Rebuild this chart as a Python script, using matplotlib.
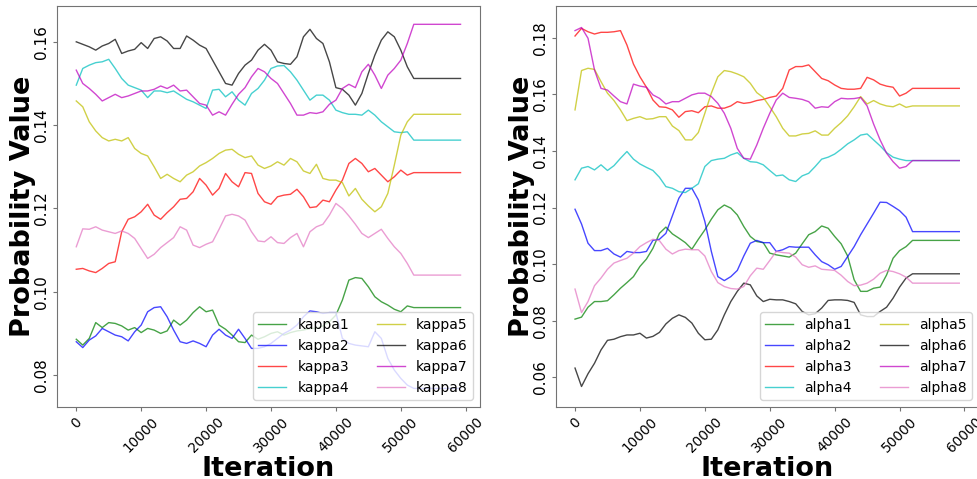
import matplotlib
matplotlib.use("Agg")
import matplotlib.pyplot as plt

iterations = list(range(0, 53000, 1000)) + [59200]

kappa1 = [0.0886,0.0872,0.0888,0.0926,0.0914,0.0926,0.0924,0.0918,0.0908,0.0914,
          0.0902,0.0912,0.0908,0.0900,0.0906,0.0932,0.0920,0.0932,0.0950,0.0964,
          0.0952,0.0956,0.0920,0.0910,0.0896,0.0880,0.0878,0.0896,0.0886,0.0892,
          0.0900,0.0904,0.0896,0.0902,0.0906,0.0908,0.0912,0.0912,0.0918,0.0928,
          0.0944,0.0980,0.1028,0.1034,0.1032,0.1012,0.0988,0.0976,0.0968,0.0958,
          0.0952,0.0966,0.0962,0.0962]
kappa2 = [0.0880,0.0866,0.0884,0.0894,0.0912,0.0904,0.0896,0.0892,0.0882,0.0904,
          0.0920,0.0952,0.0962,0.0964,0.0940,0.0908,0.0880,0.0876,0.0882,0.0876,
          0.0868,0.0896,0.0910,0.0896,0.0888,0.0910,0.0888,0.0864,0.0864,0.0868,
          0.0876,0.0888,0.0900,0.0908,0.0920,0.0940,0.0954,0.0952,0.0948,0.0950,
          0.0950,0.0888,0.0876,0.0872,0.0870,0.0868,0.0904,0.0888,0.0840,0.0812,
          0.0792,0.0776,0.0768,0.0768]
kappa3 = [0.1054,0.1056,0.1050,0.1046,0.1056,0.1068,0.1072,0.1144,0.1174,0.1180,
          0.1192,0.1210,0.1184,0.1174,0.1190,0.1204,0.1222,0.1224,0.1240,0.1272,
          0.1256,0.1232,0.1248,0.1284,0.1264,0.1252,0.1286,0.1284,0.1236,0.1216,
          0.1210,0.1228,0.1232,0.1234,0.1246,0.1228,0.1202,0.1204,0.1220,0.1216,
          0.1244,0.1268,0.1308,0.1320,0.1308,0.1288,0.1296,0.1280,0.1264,0.1276,
          0.1292,0.1280,0.1286,0.1286]
kappa4 = [0.1496,0.1536,0.1544,0.1550,0.1552,0.1558,0.1536,0.1512,0.1496,0.1490,
          0.1484,0.1466,0.1482,0.1482,0.1478,0.1482,0.1472,0.1462,0.1456,0.1448,
          0.1440,0.1484,0.1486,0.1468,0.1480,0.1460,0.1448,0.1476,0.1488,0.1508,
          0.1536,0.1542,0.1543,0.1528,0.1508,0.1484,0.1460,0.1472,0.1472,0.1460,
          0.1436,0.1430,0.1426,0.1426,0.1424,0.1436,0.1424,0.1408,0.1396,0.1384,
          0.1382,0.1384,0.1364,0.1364]
kappa5 = [0.1458,0.1444,0.1408,0.1386,0.1370,0.1362,0.1366,0.1362,0.1370,0.1344,
          0.1332,0.1326,0.1300,0.1272,0.1282,0.1272,0.1264,0.1280,0.1288,0.1302,
          0.1310,0.1320,0.1332,0.1340,0.1342,0.1330,0.1322,0.1326,0.1304,0.1296,
          0.1302,0.1312,0.1304,0.1320,0.1312,0.1290,0.1284,0.1306,0.1272,0.1268,
          0.1268,0.1262,0.1230,0.1248,0.1222,0.1206,0.1192,0.1204,0.1236,0.1304,
          0.1376,0.1408,0.1426,0.1426]
kappa6 = [0.1600,0.1594,0.1588,0.1580,0.1590,0.1596,0.1606,0.1572,0.1578,0.1582,
          0.1598,0.1584,0.1608,0.1612,0.1602,0.1584,0.1584,0.1614,0.1604,0.1592,
          0.1584,0.1556,0.1528,0.1500,0.1496,0.1524,0.1544,0.1556,0.1580,0.1594,
          0.1580,0.1552,0.1548,0.1546,0.1564,0.1612,0.1630,0.1608,0.1596,0.1552,
          0.1490,0.1486,0.1472,0.1448,0.1476,0.1524,0.1568,0.1604,0.1624,0.1612,
          0.1580,0.1540,0.1512,0.1512]
kappa7 = [0.1532,0.1500,0.1488,0.1474,0.1458,0.1466,0.1474,0.1466,0.1470,0.1476,
          0.1482,0.1482,0.1486,0.1494,0.1488,0.1496,0.1482,0.1484,0.1468,0.1452,
          0.1448,0.1424,0.1432,0.1424,0.1450,0.1474,0.1490,0.1516,0.1536,0.1528,
          0.1512,0.1500,0.1476,0.1452,0.1424,0.1424,0.1430,0.1428,0.1432,0.1450,
          0.1460,0.1488,0.1498,0.1490,0.1528,0.1546,0.1520,0.1488,0.1520,0.1536,
          0.1556,0.1596,0.1642,0.1642]
kappa8 = [0.1108,0.1151,0.1150,0.1156,0.1148,0.1144,0.1140,0.1146,0.1140,0.1128,
          0.1104,0.1080,0.1090,0.1106,0.1118,0.1130,0.1156,0.1148,0.1112,0.1106,
          0.1114,0.1120,0.1150,0.1182,0.1186,0.1182,0.1172,0.1144,0.1122,0.1120,
          0.1132,0.1118,0.1116,0.1130,0.1140,0.1108,0.1144,0.1156,0.1162,0.1184,
          0.1212,0.1200,0.1182,0.1162,0.1140,0.1130,0.1140,0.1150,0.1128,0.1108,
          0.1092,0.1068,0.1040,0.1040]

alpha1 = [0.0806,0.0813,0.0848,0.0868,0.0868,0.0871,0.0892,0.0915,0.0935,0.0956,
          0.0992,0.1018,0.1056,0.1109,0.1131,0.1107,0.1092,0.1076,0.1053,0.1088,
          0.1121,0.1159,0.1192,0.1209,0.1198,0.1174,0.1133,0.1098,0.1080,0.1076,
          0.1039,0.1033,0.1029,0.1025,0.1039,0.1072,0.1104,0.1115,0.1135,0.1127,
          0.1098,0.1072,0.1029,0.0945,0.0904,0.0904,0.0915,0.0919,0.0962,0.1021,
          0.1048,0.1062,0.1084,0.1084]
alpha2 = [0.1194,0.1142,0.1074,0.1048,0.1048,0.1056,0.1036,0.1025,0.1045,0.1041,
          0.1041,0.1045,0.1084,0.1088,0.1109,0.1171,0.1233,0.1268,0.1268,0.1227,
          0.1151,0.1045,0.0956,0.0942,0.0956,0.0978,0.1029,0.1074,0.1084,0.1076,
          0.1076,0.1045,0.1051,0.1062,0.1060,0.1060,0.1060,0.1033,0.1009,0.0998,
          0.0982,0.0992,0.1027,0.1062,0.1104,0.1142,0.1180,0.1219,0.1218,0.1204,
          0.1189,0.1166,0.1115,0.1115]
alpha3 = [0.1806,0.1833,0.1821,0.1813,0.1819,0.1819,0.1821,0.1825,0.1774,0.1707,
          0.1662,0.1625,0.1580,0.1556,0.1554,0.1545,0.1519,0.1539,0.1542,0.1535,
          0.1556,0.1559,0.1551,0.1551,0.1559,0.1574,0.1568,0.1571,0.1578,0.1582,
          0.1589,0.1594,0.1621,0.1686,0.1698,0.1698,0.1704,0.1680,0.1656,0.1648,
          0.1633,0.1621,0.1618,0.1618,0.1621,0.1660,0.1651,0.1636,0.1629,0.1625,
          0.1594,0.1604,0.1621,0.1621]
alpha4 = [0.1298,0.1339,0.1345,0.1333,0.1351,0.1331,0.1348,0.1374,0.1398,0.1371,
          0.1354,0.1342,0.1331,0.1307,0.1274,0.1268,0.1256,0.1253,0.1268,0.1284,
          0.1345,0.1366,0.1371,0.1374,0.1386,0.1394,0.1374,0.1362,0.1360,0.1351,
          0.1331,0.1312,0.1315,0.1298,0.1292,0.1312,0.1321,0.1345,0.1371,0.1378,
          0.1389,0.1406,0.1425,0.1439,0.1456,0.1460,0.1439,0.1418,0.1394,0.1378,
          0.1371,0.1366,0.1366,0.1366]
alpha5 = [0.1545,0.1684,0.1692,0.1688,0.1645,0.1604,0.1578,0.1545,0.1507,0.1515,
          0.1521,0.1512,0.1514,0.1521,0.1521,0.1488,0.1472,0.1439,0.1439,0.1465,
          0.1533,0.1604,0.1662,0.1684,0.1680,0.1672,0.1662,0.1639,0.1606,0.1589,
          0.1556,0.1521,0.1480,0.1453,0.1453,0.1460,0.1462,0.1471,0.1456,0.1456,
          0.1480,0.1500,0.1524,0.1556,0.1592,0.1566,0.1578,0.1566,0.1559,0.1556,
          0.1566,0.1554,0.1559,0.1559]
alpha6 = [0.0633,0.0568,0.0613,0.0650,0.0697,0.0731,0.0735,0.0744,0.0750,0.0750,
          0.0756,0.0739,0.0745,0.0759,0.0789,0.0809,0.0821,0.0812,0.0792,0.0756,
          0.0733,0.0735,0.0768,0.0821,0.0868,0.0904,0.0933,0.0927,0.0888,0.0868,
          0.0876,0.0874,0.0874,0.0868,0.0860,0.0833,0.0821,0.0825,0.0845,0.0872,
          0.0874,0.0874,0.0872,0.0865,0.0821,0.0815,0.0815,0.0833,0.0848,0.0880,
          0.0919,0.0951,0.0966,0.0966]
alpha7 = [0.1825,0.1836,0.1798,0.1686,0.1621,0.1615,0.1594,0.1574,0.1566,0.1636,
          0.1629,0.1625,0.1598,0.1586,0.1566,0.1574,0.1574,0.1586,0.1598,0.1604,
          0.1604,0.1592,0.1568,0.1533,0.1480,0.1409,0.1374,0.1371,0.1421,0.1480,
          0.1533,0.1580,0.1604,0.1589,0.1586,0.1582,0.1574,0.1551,0.1556,0.1554,
          0.1574,0.1586,0.1584,0.1585,0.1589,0.1559,0.1495,0.1439,0.1392,0.1362,
          0.1339,0.1345,0.1366,0.1366]
alpha8 = [0.0912,0.0829,0.0868,0.0924,0.0951,0.0982,0.1004,0.1013,0.1021,0.1039,
          0.1062,0.1076,0.1088,0.1083,0.1053,0.1036,0.1048,0.1053,0.1051,0.1051,
          0.1029,0.0974,0.0935,0.0921,0.0914,0.0912,0.0921,0.0959,0.0986,0.0982,
          0.1013,0.1045,0.1041,0.1039,0.1025,0.0998,0.0989,0.0994,0.0982,0.0980,
          0.0978,0.0961,0.0939,0.0924,0.0926,0.0933,0.0947,0.0968,0.0978,0.0974,
          0.0966,0.0954,0.0933,0.0933]

kappa_labels = ["kappa1", "kappa2", "kappa3", "kappa4", "kappa5", "kappa6", "kappa7", "kappa8"]
alpha_labels = ["alpha1", "alpha2", "alpha3", "alpha4", "alpha5", "alpha6", "alpha7", "alpha8"]
kappa_series = [kappa1, kappa2, kappa3, kappa4, kappa5, kappa6, kappa7, kappa8]
alpha_series = [alpha1, alpha2, alpha3, alpha4, alpha5, alpha6, alpha7, alpha8]
colors = ["g", "b", "r", "c", "y", "k", "m", "tab:pink"]
x_ticks = [0, 10000, 20000, 30000, 40000, 50000, 60000]

fig = plt.figure(figsize=(9.77, 4.79), dpi=100)
ax1 = fig.add_axes([0.0583, 0.150, 0.433, 0.8375])
ax2 = fig.add_axes([0.5688, 0.150, 0.433, 0.8375])

spine_col = "0.45"

def style(ax, series, labels, ylim):
    for vals, lab, col in zip(series, labels, colors):
        ax.plot(iterations, vals, color=col, lw=1.0, alpha=0.72, label=lab)
    ax.set_xlim(-2975, 62200)
    ax.set_ylim(*ylim)
    ax.set_xticks(x_ticks)
    ax.tick_params(axis="x", labelrotation=45, labelsize=9.8, color=spine_col,
                   length=3, pad=2.5)
    ax.tick_params(axis="y", labelrotation=90, labelsize=11, color=spine_col,
                   length=3, pad=2.5)
    for lab in ax.get_yticklabels():
        lab.set_va("center")
    for s in ax.spines.values():
        s.set_color(spine_col)
    ax.set_xlabel("Iteration", fontsize=19.5, fontweight="bold")
    ax.set_ylabel("Probability Value", fontsize=19.5, fontweight="bold")
    ax.xaxis.set_label_coords(0.5, -0.122)
    ax.yaxis.set_label_coords(-0.049, 0.5)
    ax.legend(loc="lower right", ncol=2, fontsize=10)

style(ax1, kappa_series, kappa_labels, (0.0723, 0.1686))
style(ax2, alpha_series, alpha_labels, (0.0495, 0.1912))
ax1.set_yticks([0.08, 0.10, 0.12, 0.14, 0.16])
ax2.set_yticks([0.06, 0.08, 0.10, 0.12, 0.14, 0.16, 0.18])

fig.savefig("out.png", dpi=100)
